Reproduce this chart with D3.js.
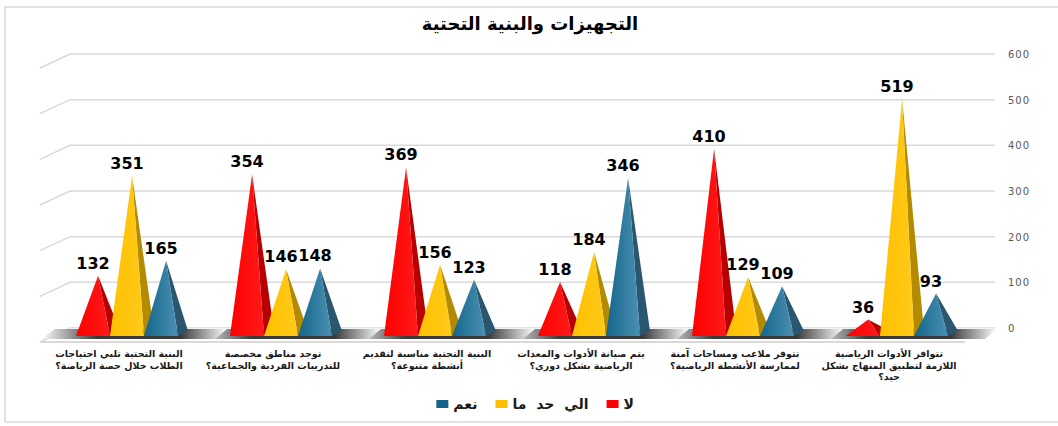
<!DOCTYPE html>
<html>
<head>
<meta charset="utf-8">
<script src="https://cdn.jsdelivr.net/npm/d3@7"></script>
<style>
  body { margin: 0; background: #fff; }
  svg { display: block; }
</style>
</head>
<body>
<div class="chart"></div>
<script>
// Questions, listed in their original order (drawn right to left)
const categories = [
  ["تتوافر الأدوات الرياضية", "اللازمة لتطبيق المنهاج بشكل", "جيد؟"],
  ["تتوفر ملاعب ومساحات آمنة", "لممارسة الأنشطة الرياضية؟"],
  ["يتم صيانة الأدوات والمعدات", "الرياضية بشكل دوري؟"],
  ["البنية التحتية مناسبة لتقديم", "أنشطة متنوعة؟"],
  ["توجد مناطق مخصصة", "للتدريبات الفردية والجماعية؟"],
  ["البنية التحتية تلبي احتياجات", "الطلاب خلال حصة الرياضة؟"]
];
const seriesNames = ["لا", "الي حد ما", "نعم"];
const noValues = [36, 410, 118, 369, 354, 132];
const someValues = [519, 129, 184, 156, 146, 351];
const yesValues = [93, 109, 346, 123, 148, 165];
const tickValues = [0, 100, 200, 300, 400, 500, 600];
const title = "التجهيزات والبنية التحتية";

const width = 1058, height = 426;
const arabicFont = "'DejaVu Sans', sans-serif";

const svg = d3.select(".chart").append("svg")
  .attr("width", width)
  .attr("height", height);

const defs = svg.append("defs");

// Colors: front face and side face of each pyramid
const colors = {
  "لا": { front: ["#ff0000", "#ff1a1a"], side: "#b80000" },
  "الي حد ما": { front: ["#ffc000", "#ffca1a"], side: "#b38a00" },
  "نعم": { front: ["#13668a", "#4b90b3"], side: "#2b566f" }
};
seriesNames.forEach((s, i) => {
  const g = defs.append("linearGradient")
    .attr("id", "front" + i)
    .attr("x1", "0%").attr("x2", "100%");
  g.append("stop").attr("offset", "0%").attr("stop-color", colors[s].front[0]);
  g.append("stop").attr("offset", "100%").attr("stop-color", colors[s].front[1]);
});

// Floor shadow gradient
const shadow = defs.append("linearGradient")
  .attr("id", "shadow")
  .attr("x1", "0%").attr("x2", "100%");
shadow.append("stop").attr("offset", "0%").attr("stop-color", "#ffffff");
shadow.append("stop").attr("offset", "30%").attr("stop-color", "#3a3a3a");
shadow.append("stop").attr("offset", "75%").attr("stop-color", "#3a3a3a");
shadow.append("stop").attr("offset", "100%").attr("stop-color", "#ffffff");

// Outer frame
svg.append("rect")
  .attr("x", 5).attr("y", 7)
  .attr("width", width + 10).attr("height", 415)
  .attr("fill", "none")
  .attr("stroke", "#d9d9d9")
  .attr("stroke-width", 1.5);

// Title
svg.append("text")
  .attr("x", 530).attr("y", 30)
  .attr("text-anchor", "middle")
  .attr("font-family", arabicFont)
  .attr("font-weight", "bold")
  .attr("font-size", 18)
  .attr("fill", "#000")
  .text(title);

// Scales
const y = d3.scaleLinear().domain([0, 600]).range([336, 62]);
const backOffset = 8;
const x = d3.scalePoint()
  .domain(d3.range(categories.length))
  .range([974, 50])
  .padding(0.5);
const xs = d3.scaleBand().domain(seriesNames).range([-51, 51]);

// Gridlines on back wall with slanted side wall part
const grid = svg.append("g");
grid.selectAll(".gl")
  .data(tickValues)
  .enter()
  .append("path")
  .attr("d", d => `M40,${y(d) + 6}L70,${y(d) - backOffset}L995,${y(d) - backOffset}`)
  .attr("fill", "none")
  .attr("stroke", "#d9d9d9")
  .attr("stroke-width", 1.5);

// Axis labels on the right
svg.selectAll(".tick")
  .data(tickValues)
  .enter()
  .append("text")
  .attr("x", 1008)
  .attr("y", d => y(d) - backOffset + 4)
  .attr("font-family", "'DejaVu Sans', sans-serif")
  .attr("font-size", 10)
  .attr("letter-spacing", 1)
  .attr("fill", "#595959")
  .text(d => d);

// Floor
const floorY = y(0);
svg.append("line")
  .attr("x1", 40).attr("x2", 965)
  .attr("y1", floorY + 6).attr("y2", floorY + 6)
  .attr("stroke", "#d9d9d9").attr("stroke-width", 2);
svg.append("path")
  .attr("d", `M40,${floorY + 3}L975,${floorY + 3}L995,${floorY - 8}L70,${floorY - 8}Z`)
  .attr("fill", "#f2f2f2");

const groups = svg.selectAll(".group")
  .data(categories)
  .enter()
  .append("g")
  .attr("transform", (d, i) => `translate(${x(i)},0)`);

groups.append("path")
  .attr("d", `M-86,${floorY + 3}L88,${floorY + 3}L100,${floorY - 7}L-72,${floorY - 7}Z`)
  .attr("fill", "url(#shadow)");

// Pyramids
const seriesValues = [noValues, someValues, yesValues];
seriesNames.forEach((s, si) => {
  const w = xs.bandwidth();
  const pyr = groups.append("g");
  pyr.each(function (d, i) {
    const v = seriesValues[si][i];
    const x0 = xs(s);
    const ax = x0 + w * 0.65, ay = y(v);
    const g = d3.select(this);
    // side face
    g.append("path")
      .attr("d", `M${ax},${ay}L${x0 + w},${floorY}L${x0 + w + 10},${floorY - 5}Z`)
      .attr("fill", colors[s].side);
    // front face
    g.append("path")
      .attr("d", `M${x0},${floorY}L${ax},${ay}L${x0 + w},${floorY}Z`)
      .attr("fill", `url(#front${si})`);
    // value label
    g.append("text")
      .attr("x", x0 + w / 2)
      .attr("y", ay - 7)
      .attr("text-anchor", "middle")
      .attr("font-family", "'DejaVu Sans', sans-serif")
      .attr("font-weight", "bold")
      .attr("font-size", 16)
      .attr("fill", "#000")
      .text(v);
  });
});

// Category labels
groups.append("text")
  .attr("text-anchor", "middle")
  .attr("font-family", arabicFont)
  .attr("font-weight", "bold")
  .attr("font-size", 9.5)
  .attr("fill", "#1a1a1a")
  .selectAll("tspan")
  .data(d => d)
  .enter()
  .append("tspan")
  .attr("x", -8)
  .attr("y", (d, i) => 357 + i * 11.5)
  .text(d => d);

// Legend, laid out right to left
const legend = svg.append("g");
let right = 634;
seriesNames.forEach((s, si) => {
  const t = legend.append("text")
    .attr("x", right)
    .attr("y", 409)
    .attr("text-anchor", "end")
    .attr("font-family", arabicFont)
    .attr("font-weight", "bold")
    .attr("font-size", 14)
    .attr("word-spacing", 5)
    .attr("fill", "#1a1a1a")
    .text(s);
  const tw = t.node().getComputedTextLength();
  legend.append("rect")
    .attr("x", right - tw - 17)
    .attr("y", 400)
    .attr("width", 12)
    .attr("height", 8)
    .attr("fill", colors[s].front[0]);
  right = right - tw - 17 - 18;
});
</script>
</body>
</html>
